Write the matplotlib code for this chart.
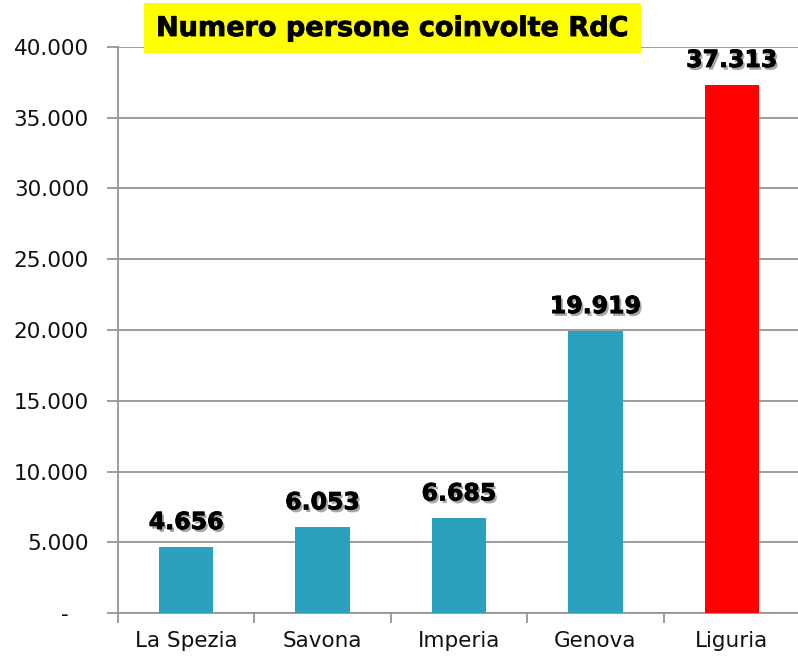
import matplotlib
matplotlib.use("Agg")
import matplotlib.pyplot as plt
import matplotlib.patheffects as pe
from matplotlib.patches import Rectangle
from matplotlib.ticker import FuncFormatter, FixedLocator

categories = ["La Spezia", "Savona", "Imperia", "Genova", "Liguria"]
values = [4656, 6053, 6685, 19919, 37313]
bar_colors = ["#2CA1BE", "#2CA1BE", "#2CA1BE", "#2CA1BE", "#FF0000"]
title = "Numero persone coinvolte RdC"

plt.rcParams['font.family'] = ['DejaVu Sans']

W, H = 798, 656
fig = plt.figure(figsize=(W / 100, H / 100), dpi=100)
ax = fig.add_axes([118 / W, 43 / H, 682 / W, 566 / H])

x = list(range(len(categories)))
ax.bar(x, values, width=0.4, color=bar_colors, zorder=3)
ax.set_xlim(-0.5, len(categories) - 0.5)
ax.set_ylim(0, 40000)
ax.set_yticks(range(0, 40001, 5000))

def fmt(v, pos=None):
    if v == 0:
        return "-   "
    return f"{int(v):,}".replace(",", ".")

gray = '#959595'
ax.yaxis.set_major_formatter(FuncFormatter(fmt))
ax.grid(axis='y', color=gray, linewidth=1.3, zorder=0)
ax.set_xticks(x)
ax.set_xticklabels(categories)
ax.tick_params(axis='x', length=0, labelsize=15.5, pad=13, labelcolor='#111111')
ax.xaxis.set_minor_locator(FixedLocator([i - 0.5 for i in range(len(categories) + 1)]))
ax.tick_params(axis='x', which='minor', length=7, color=gray, width=1.3)
ax.tick_params(axis='y', length=8, color=gray, width=1.3, labelsize=15.5, pad=13,
               labelcolor='#111111')
for s in ['top', 'right']:
    ax.spines[s].set_visible(False)
for s in ['left', 'bottom']:
    ax.spines[s].set_color(gray)
    ax.spines[s].set_linewidth(1.3)

for xi, v in zip(x, values):
    ax.annotate(fmt(v), (xi, v), xytext=(0, 13), textcoords='offset points',
                ha='center', va='baseline', fontsize=17, fontweight='heavy',
                color='black', zorder=5,
                path_effects=[pe.SimplePatchShadow(offset=(1.6, -2), shadow_rgbFace='#222222', alpha=0.4),
                              pe.Stroke(linewidth=0.6, foreground='black'),
                              pe.Normal()])

fig.patches.append(Rectangle((144 / W, 1 - 53 / H), 497 / W, 50 / H,
                             transform=fig.transFigure, facecolor='#FFFF00',
                             edgecolor='none', zorder=10))
fig.text(392.5 / W, 1 - 29 / H, title, ha='center', va='center', fontsize=19.5,
         fontweight='bold', color='black', zorder=11,
         path_effects=[pe.Stroke(linewidth=0.6, foreground='black'), pe.Normal()])

fig.savefig("out.png", dpi=100)
